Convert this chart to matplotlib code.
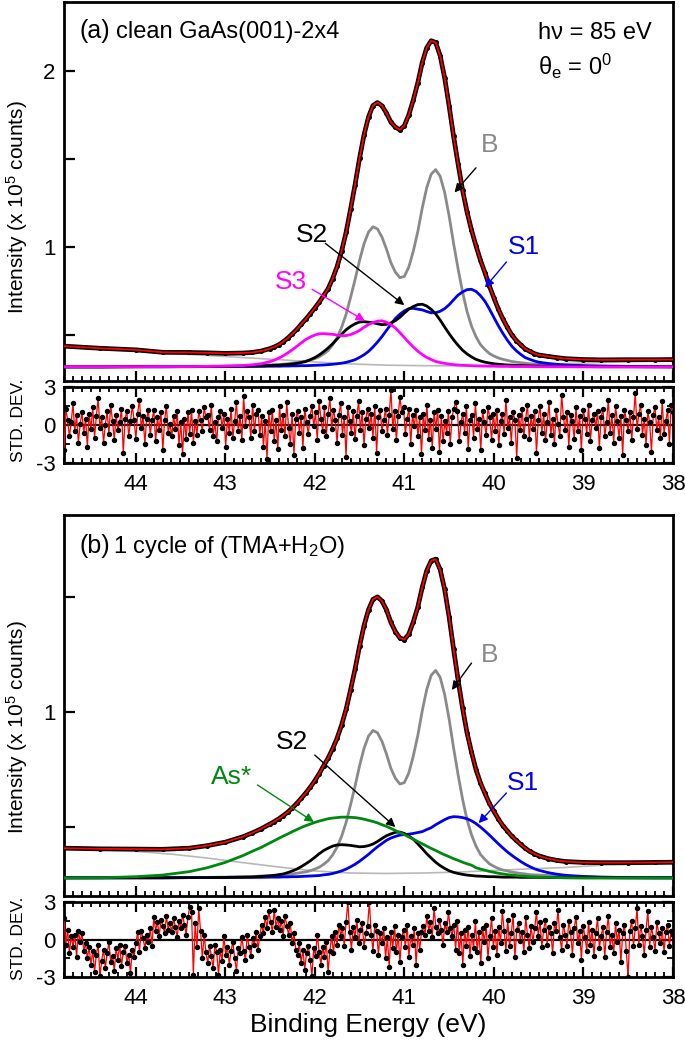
import numpy as np
import matplotlib
matplotlib.use("Agg")
import matplotlib.pyplot as plt
from matplotlib.ticker import FixedLocator, NullFormatter

plt.rcParams['font.family'] = ['Liberation Sans', 'DejaVu Sans']
plt.rcParams['mathtext.fontset'] = 'custom'
plt.rcParams['mathtext.rm'] = 'Liberation Sans'
plt.rcParams['mathtext.it'] = 'Liberation Sans:italic'

# ---------------- energy grid (eV) ----------------
energy = [44.8, 44.4, 44.0, 43.7, 43.4, 43.2, 43.0, 42.8, 42.7, 42.6,
          42.5, 42.45, 42.4, 42.35, 42.3, 42.25, 42.2, 42.15, 42.1, 42.05,
          42.0, 41.95, 41.9, 41.85, 41.8, 41.75, 41.7, 41.65, 41.6, 41.55,
          41.5, 41.45, 41.4, 41.35, 41.3, 41.25, 41.2, 41.15, 41.1, 41.05,
          41.0, 40.95, 40.9, 40.85, 40.8, 40.75, 40.7, 40.65, 40.6, 40.55,
          40.5, 40.45, 40.4, 40.35, 40.3, 40.25, 40.2, 40.15, 40.1, 40.05,
          40.0, 39.95, 39.9, 39.85, 39.8, 39.75, 39.7, 39.65, 39.6, 39.55,
          39.5, 39.4, 39.3, 39.2, 39.0, 38.8, 38.5, 38.2, 38.0]

# ---------------- panel (a): clean GaAs(001)-2x4 ----------------
a_data = [.437, .425, .416, .402, .401, .399, .396, .398, .401, .409,
          .423, .433, .445, .463, .483, .507, .532, .562, .590, .621,
          .653, .687, .725, .764, .821, .890, .977, 1.084, 1.216, 1.354,
          1.504, 1.637, 1.739, 1.804, 1.821, 1.803, 1.761, 1.710, 1.681, 1.666,
          1.689, 1.751, 1.835, 1.932, 2.048, 2.132, 2.172, 2.162, 2.087, 1.962,
          1.802, 1.629, 1.473, 1.324, 1.200, 1.097, 1.007, .925, .855, .779,
          .711, .647, .592, .544, .501, .469, .444, .421, .408, .395,
          .387, .379, .372, .366, .361, .359, .360, .360, .361]
a_B = [.319, .319, .320, .320, .321, .322, .323, .325, .326, .329,
       .331, .332, .333, .335, .337, .340, .344, .348, .352, .358,
       .366, .377, .393, .412, .444, .486, .544, .618, .714, .815,
       .924, 1.018, 1.085, 1.115, 1.103, 1.057, .989, .911, .857, .826,
       .833, .886, .976, 1.087, 1.221, 1.337, 1.414, 1.440, 1.402, 1.311,
       1.177, 1.021, .877, .745, .634, .551, .491, .446, .418, .395,
       .381, .370, .362, .356, .350, .346, .343, .340, .337, .335,
       .334, .332, .330, .327, .325, .323, .322, .321, .320]
a_S1 = [.319, .319, .320, .320, .321, .321, .321, .322, .322, .322,
        .323, .323, .323, .324, .324, .325, .325, .326, .326, .327,
        .328, .329, .330, .332, .334, .337, .340, .345, .352, .360,
        .373, .388, .407, .432, .460, .491, .526, .561, .594, .618,
        .637, .650, .652, .647, .643, .634, .626, .627, .635, .650,
        .672, .700, .727, .745, .758, .760, .748, .724, .692, .648,
        .600, .553, .510, .471, .437, .411, .390, .372, .362, .353,
        .346, .339, .334, .330, .326, .324, .322, .321, .320]
a_S2 = [.319, .319, .320, .320, .320, .321, .321, .323, .324, .325,
        .327, .328, .329, .331, .333, .336, .339, .344, .350, .360,
        .372, .387, .406, .427, .451, .478, .505, .530, .549, .564,
        .574, .576, .573, .570, .564, .559, .561, .569, .582, .601,
        .625, .647, .662, .673, .675, .665, .646, .620, .585, .546,
        .508, .473, .442, .414, .393, .376, .362, .353, .346, .341,
        .337, .334, .332, .330, .329, .328, .327, .326, .325, .324,
        .324, .323, .322, .322, .321, .320, .320, .319, .319]
a_S3 = [.320, .320, .320, .321, .321, .322, .324, .327, .331, .337,
        .349, .358, .369, .383, .399, .417, .436, .456, .475, .489,
        .500, .507, .508, .506, .504, .500, .496, .497, .503, .513,
        .526, .544, .560, .571, .579, .581, .573, .559, .540, .514,
        .486, .458, .432, .409, .389, .373, .361, .350, .344, .339,
        .335, .332, .330, .328, .327, .326, .325, .324, .324, .323,
        .323, .322, .322, .322, .321, .321, .321, .321, .321, .320,
        .320, .320, .320, .320, .319, .319, .319, .319, .319]
bg_energy = [44.8, 44.4, 44.0, 43.6, 43.2, 42.8, 42.4, 42.0, 41.6,
             41.2, 40.8, 40.4, 40.0, 39.6, 39.2, 38.8, 38.4, 38.0]
a_bg = [.432, .420, .408, .396, .384, .372, .360, .347, .336,
        .329, .326, .325, .327, .332, .338, .344, .350, .355]

res_a = [-2.0, 1.3, 0.4, -0.9, 0.2, 1.7, -0.5, 0.8, -1.4, 0.1, 1.0, -0.6, 0.5, -1.7, 0.9, -0.3, 1.4, -1.0, 0.7, 2.1,
         -0.2, 0.6, -1.4, 0.0, 1.1, -0.7, 1.6, 0.3, -1.2, 0.8, -0.4, 0.2, 1.3, -2.2, 0.5, 1.1, -0.9, 0.3, 1.5, 0.4,
         -1.1, 0.9, 2.0, -0.2, 0.7, -1.5, 0.5, 1.2, -0.8, 0.4, 1.2, -1.3, 0.6, -0.4, 1.0, -2.0, 0.4, 1.5, -0.6, 0.1,
         -0.9, 0.7, -0.3, 1.1, -1.6, 0.2, -2.3, 0.5, -1.1, 1.0, -0.7, 1.2, -1.4, 0.3, -0.8, 1.1, 0.4, -0.5, 1.4, 0.6,
         0.8, -0.4, 1.6, -0.9, 0.2, -1.3, 0.6, 1.1, -0.2, 0.9, -1.7, 0.5, -0.6, 1.3, -1.0, 0.3, 1.8, -0.5, 0.7, -1.2,
         2.3, -0.1, 1.1, 0.6, -1.0, 1.6, -0.5, 0.9, 1.2, -0.8, 0.7, -1.7, 0.3, -2.7, 1.0, -0.5, 1.2, -1.3, 0.4, -1.9,
         1.5, -0.4, 0.8, -0.9, 1.8, -0.2, -1.5, 0.9, -2.4, 0.5, 1.1, -0.6, 0.6, -1.8, 1.3, 0.2, -0.7, 0.7, 1.5, -0.1,
         1.0, -1.2, 1.9, 0.5, -0.5, 1.4, -0.9, 0.9, 2.1, -0.3, 1.2, 0.4, -1.4, 0.8, 1.7, -0.8, 0.6, -2.5, 1.4, 0.3,
         -0.6, 1.1, -1.1, 0.7, 1.9, -0.4, 1.0, -1.6, 0.5, 1.3, -0.2, 0.9, -1.0, 1.5, -2.2, 0.6, 1.2, -0.5, 0.4, 1.3,
         -0.8, 0.8, 2.8, -0.3, 1.1, -1.2, 0.7, 2.2, 1.0, 1.4, -0.7, 0.5, 1.3, -1.5, 0.8, -0.1, 1.2, -0.9, 0.6, -2.3,
         0.9, -0.4, 1.6, -1.1, 0.4, -1.8, 1.0, -0.3, 1.2, -2.1, 0.7, -1.3, 0.3, -0.6, 1.1, -1.5, 0.6, 1.3, 1.8, 1.1,
         -1.3, 0.2, 0.9, -0.6, 1.5, -1.9, 0.4, 0.8, -1.0, 1.7, -0.3, 0.5, -2.0, 1.1, 0.2, -0.8, 1.4, 0.6, -1.2, 0.9,
         -0.5, 1.2, -1.6, 0.3, 0.9, -0.7, 2.0, -0.2, 0.6, -1.4, 1.0, 0.4, -2.6, 0.8, -0.4, 1.3, -0.9, 0.5, 1.6, -1.1,
         0.7, -0.3, 1.1, -2.2, 0.4, 1.5, -0.6, 0.9, -1.2, 0.2, 1.8, -0.8, 0.5, -1.5, 1.2, 0.1, -0.9, 2.4, 0.6, -0.4,
         1.0, -1.7, 0.8, 0.3, -1.1, 1.4, -0.5, 0.7, -2.0, 1.2, 0.5, -0.7, 1.6, -1.3, 0.4, 0.9, -0.2, 1.1, -1.8, 0.6,
         1.3, -0.9, 0.2, 2.0, -0.6, 0.8, -1.4, 1.5, 0.3, -1.0, 0.7, -2.4, 1.2, 0.4, -0.5, 1.0, -1.2, 0.6, 2.5, -0.3,
         0.9, 1.6, -0.8, 0.5, -1.6, 1.1, 0.2, -2.1, 0.8, 1.4, -0.4, 0.6, -1.0, 1.9, -0.7, 0.3, 1.2, -1.5, 1.6, 1.0]

# ---------------- panel (b): 1 cycle of (TMA+H2O) ----------------
b_data = [.408, .405, .404, .403, .408, .419, .434, .458, .474, .492,
          .513, .524, .536, .550, .565, .583, .603, .625, .648, .673,
          .701, .732, .767, .800, .841, .887, .944, 1.012, 1.097, 1.187,
          1.286, 1.376, 1.445, 1.490, 1.501, 1.483, 1.445, 1.390, 1.350, 1.322,
          1.315, 1.339, 1.392, 1.456, 1.542, 1.615, 1.658, 1.665, 1.620, 1.534,
          1.414, 1.274, 1.140, 1.018, .910, .826, .750, .692, .646, .603,
          .568, .535, .506, .483, .460, .442, .424, .408, .394, .384,
          .375, .363, .355, .350, .346, .345, .345, .346, .347]
b_B = [.279, .279, .280, .280, .280, .281, .282, .284, .284, .287,
       .288, .289, .290, .292, .293, .296, .299, .302, .305, .310,
       .317, .325, .338, .354, .379, .413, .460, .520, .597, .678,
       .766, .842, .895, .920, .910, .873, .818, .755, .712, .687,
       .693, .735, .808, .897, 1.005, 1.098, 1.160, 1.181, 1.151, 1.077,
       .970, .844, .728, .622, .532, .466, .417, .381, .359, .340,
       .329, .320, .313, .309, .304, .301, .298, .296, .293, .292,
       .291, .289, .288, .285, .284, .282, .281, .280, .280]
b_S1 = [.279, .279, .279, .279, .280, .280, .280, .281, .281, .281,
        .282, .282, .282, .283, .283, .284, .284, .285, .286, .287,
        .288, .289, .292, .294, .298, .303, .309, .317, .327, .338,
        .351, .366, .381, .398, .414, .428, .442, .452, .459, .465,
        .467, .469, .472, .476, .480, .489, .497, .510, .521, .532,
        .541, .545, .544, .541, .536, .527, .515, .500, .483, .465,
        .446, .427, .409, .392, .377, .363, .350, .338, .328, .319,
        .312, .302, .295, .290, .285, .282, .280, .279, .279]
b_S2 = [.279, .279, .279, .279, .280, .280, .281, .282, .283, .285,
        .288, .290, .293, .296, .302, .309, .317, .328, .340, .353,
        .368, .384, .398, .408, .417, .422, .423, .422, .420, .417,
        .414, .415, .419, .426, .437, .450, .462, .470, .477, .478,
        .472, .461, .447, .427, .406, .384, .365, .347, .332, .320,
        .310, .303, .298, .294, .291, .289, .287, .286, .285, .284,
        .284, .283, .282, .282, .282, .282, .281, .281, .281, .281,
        .281, .280, .280, .280, .280, .280, .279, .279, .279]
b_As = [.278, .279, .284, .291, .306, .323, .346, .376, .394, .411,
        .431, .441, .451, .461, .470, .480, .489, .498, .506, .513,
        .520, .526, .531, .536, .539, .541, .543, .543, .542, .541,
        .538, .534, .529, .524, .518, .510, .503, .494, .485, .476,
        .467, .457, .447, .437, .427, .417, .407, .398, .388, .379,
        .371, .362, .355, .347, .340, .334, .323, .317, .312, .307,
        .303, .299, .296, .293, .291, .289, .287, .286, .284, .283,
        .282, .281, .280, .279, .278, .278, .278, .278, .278]
b_bg = [.405, .401, .394, .382, .365, .345, .326, .309, .300,
        .298, .300, .304, .311, .318, .324, .334, .338, .341]

res_b = [1.7, -0.4, 0.8, -1.1, 0.3, -0.6, 0.4, -1.4, 0.7, -0.2, 0.5, -0.9, -0.3, -1.5, -0.6, -2.0, -0.9, -2.6, -1.2, -0.4,
         -2.9, -1.7, -0.8, -2.3, -1.1, -0.2, -1.8, -1.3, -2.5, -0.7, -1.6, -0.4, -2.1, -1.0, -0.5, -1.9, -1.2, -2.7, -0.8, -1.4,
         -0.3, 0.6, -1.0, 0.7, 0.1, -0.7, 0.4, -0.2, 0.9, -0.5, 1.8, 0.7, 1.4, 0.3, 1.6, 1.1, 0.5, 1.9, 0.8, 1.3,
         0.6, 1.7, 1.0, 0.2, 1.5, 0.9, 2.0, 1.2, 0.4, 1.8, 2.6, 2.2, -2.8, 1.3, -0.6, 2.5, 0.7, -1.5, 0.4, -1.0,
         -1.9, -0.5, -1.3, -2.3, -0.4, -1.0, -2.8, -0.8, -1.7, 0.3, -1.2, -0.6, -2.0, -0.9, -0.2, -1.5, -2.5, -0.7, -1.1, 0.2,
         -0.9, -1.6, 0.4, -0.6, -1.3, 0.1, -0.4, 0.6, -0.8, 0.3, 1.2, 0.5, 1.8, 0.9, 2.3, 1.4, 0.6, 2.4, 1.0, 1.7,
         0.8, 1.5, 0.3, 1.9, 1.1, 0.4, 1.3, -0.3, 0.5, -0.8, -1.2, -0.3, -1.9, -0.8, -2.4, -1.1, -0.5, -1.6, -2.9, -0.7,
         -1.3, 0.4, -1.0, -2.0, -0.6, -1.4, -0.2, -2.6, -0.9, 0.3, -1.1, 0.6, -0.4, 1.2, 0.3, 0.9, -0.5, 1.4, 3.0, 0.6,
         -0.8, 1.0, 0.2, 1.6, -0.3, 0.8, 1.3, -0.6, 0.5, 1.1, 3.0, 0.4, -0.9, 1.2, 0.7, -1.2, 0.5, -0.3, 0.9, -1.5,
         0.2, -2.2, 0.6, -0.7, 1.1, -1.0, 0.4, -1.8, 0.2, 0.8, -0.6, 1.2, -1.4, 0.3, -0.4, 0.9, -2.0, 0.5, -0.8, 0.6,
         1.1, 0.4, 1.9, 0.7, 1.4, 0.2, 2.5, 1.0, 0.5, 1.6, 0.8, -0.4, 1.3, 0.6, 2.2, 0.9, 0.3, 1.2, -0.8, 1.5,
         -1.1, 0.5, -2.0, 0.8, -0.5, 1.0, -1.3, 0.4, -0.7, 1.5, -1.0, 0.6, -1.9, 0.9, -0.2, 1.2, -1.5, 0.3, 1.7, -0.6,
         0.7, -1.2, 1.0, -0.3, 2.3, 0.7, -0.9, 1.6, -0.5, 0.5, 2.0, -1.4, 0.8, 1.3, -0.1, 0.6, -1.0, 1.8, 0.4, -0.7,
         1.1, -0.2, 0.9, 2.2, 0.3, 1.4, -0.6, 0.8, 1.6, -0.4, 1.0, 0.5, -1.1, 1.3, 0.7, 2.4, 0.2, -0.8, 1.2, 0.4,
         -0.5, 1.5, 0.6, -1.2, 0.9, 1.8, -0.3, 0.7, -1.6, 1.1, 0.2, -0.9, 1.4, -0.4, 0.8, -1.3, 0.5, 1.7, -0.7, 0.3,
         1.0, -1.4, 0.6, 1.9, -0.6, 0.4, -1.1, 1.3, -0.2, 0.8, -1.8, 0.5, 1.2, -0.9, -3.0, 0.7, 1.5, -0.5, 0.9, 2.5,
         -0.4, 1.1, 0.3, -1.2, 0.8, 2.3, -0.6, 1.0, 0.2, -0.9, 1.4, 0.5, -0.3, 0.9, -1.0, 0.6, 1.2, -0.5, 0.7, 0.4]

x_ticks = [44, 43, 42, 41, 40, 39, 38]

# ---------------- figure ----------------
W, H = 685, 1050
fig = plt.figure(figsize=(W / 100, H / 100), dpi=100)

def rect(x0, y0, x1, y1):
    return [x0 / W, 1 - y1 / H, (x1 - x0) / W, (y1 - y0) / H]

ax_a = fig.add_axes(rect(64, 2, 673, 381))
ax_ar = fig.add_axes(rect(64, 387, 673, 463))
ax_b = fig.add_axes(rect(64, 515, 673, 896))
ax_br = fig.add_axes(rect(64, 902, 673, 977))

GRAY = '#8a8a8a'
BLUE = '#0000ee'
MAG = '#ff00ff'
GREEN = '#00870f'
LW = 2.0

def style(ax, main):
    for s in ax.spines.values():
        s.set_linewidth(2.0)
    ax.set_xlim(44.8, 38.0)
    ax.xaxis.set_major_locator(FixedLocator(x_ticks))
    ax.xaxis.set_minor_locator(FixedLocator(np.arange(38.0, 44.81, 0.1)))
    ax.tick_params(axis='both', which='both', direction='in', labelsize=16)
    ax.tick_params(axis='x', which='major', length=7, width=1.6)
    ax.tick_params(axis='x', which='minor', length=3.5, width=1.3)
    ax.tick_params(axis='y', which='major', length=8, width=1.6, pad=6)
    ax.tick_params(axis='y', which='minor', length=4, width=1.3)
    if main:
        ax.tick_params(axis='x', which='both', top=False, bottom=True, labelbottom=False)
        ax.tick_params(axis='y', which='both', left=True, right=False)
    else:
        ax.tick_params(axis='x', which='both', top=True, bottom=True, labelbottom=True, pad=8)
        ax.tick_params(axis='y', which='both', left=True, right=True)

for ax in (ax_a, ax_ar, ax_b, ax_br):
    style(ax, ax in (ax_a, ax_b))

def arrow(ax, tail, head, color):
    ax.annotate('', xy=head, xytext=tail,
                arrowprops=dict(arrowstyle='-|>', color=color, lw=1.0,
                                mutation_scale=13, shrinkA=0, shrinkB=0),
                zorder=8)

def residual(ax, values):
    e = np.linspace(44.8, 38.0, len(values))
    ax.axhline(0, color='black', lw=1.6, zorder=2)
    ax.plot(e, values, color='red', lw=0.9, zorder=3)
    ax.plot(e, values, 'o', color='black', ms=2.9, zorder=4)
    ax.set_ylim(-3, 3)
    ax.set_yticks([-3, 0, 3])
    ax.set_yticklabels(['-3', '0', '3'])
    ax.yaxis.set_minor_locator(FixedLocator([-1.5, 1.5]))
    ax.yaxis.set_minor_formatter(NullFormatter())

def spectrum(ax, values):
    ax.plot(energy, values, color='black', lw=3.4, zorder=5)
    ax.plot(energy, values, color='black', lw=0, marker='o', ms=2.6, zorder=5)
    ax.plot(energy, values, color='red', lw=1.3, zorder=6)

# ---- panel (a) ----
ax_a.plot(bg_energy, a_bg, color='#b8b8b8', lw=1.2, zorder=2)
ax_a.plot(energy, a_B, color=GRAY, lw=LW, zorder=3)
ax_a.plot(energy, a_S1, color=BLUE, lw=LW, zorder=3)
ax_a.plot(energy, a_S2, color='black', lw=LW, zorder=3)
ax_a.plot(energy, a_S3, color=MAG, lw=LW, zorder=4)
spectrum(ax_a, a_data)
ax_a.set_ylim(0.239, 2.392)
ax_a.set_yticks([0.5, 1.0, 1.5, 2.0])
ax_a.set_yticklabels(['', '1', '', '2'])

ax_a.text(40.05, 1.58, 'B', color=GRAY, fontsize=19, ha='center', va='center')
ax_a.text(42.03, 1.07, 'S2', color='black', fontsize=19, ha='center', va='center')
ax_a.text(39.66, 1.0, 'S1', color=BLUE, fontsize=19, ha='center', va='center')
ax_a.text(42.27, 0.80, 'S3', color=MAG, fontsize=19, ha='center', va='center')
arrow(ax_a, (40.20, 1.45), (40.44, 1.31), 'black')
arrow(ax_a, (41.88, 1.02), (41.00, 0.67), 'black')
arrow(ax_a, (39.86, 0.915), (40.10, 0.77), BLUE)
arrow(ax_a, (42.03, 0.76), (41.44, 0.58), MAG)

ax_a.text(44.63, 2.19, '(a)', fontsize=18, ha='left', va='baseline')
ax_a.text(44.22, 2.19, 'clean GaAs(001)-2x4', fontsize=17, ha='left', va='baseline')
ax_a.text(39.51, 2.182, 'h\u03bd = 85 eV', fontsize=17, ha='left', va='baseline')
ax_a.text(39.51, 1.977, '\u03b8$_\\mathregular{e}$ = 0$^\\mathregular{0}$', fontsize=17,
          ha='left', va='baseline')

residual(ax_ar, res_a)

# ---- panel (b) ----
ax_b.plot(bg_energy, b_bg, color='#b8b8b8', lw=1.2, zorder=2)
ax_b.plot(energy, b_B, color=GRAY, lw=LW, zorder=3)
ax_b.plot(energy, b_S1, color=BLUE, lw=LW, zorder=3)
ax_b.plot(energy, b_S2, color='black', lw=LW, zorder=3)
ax_b.plot(energy, b_As, color=GREEN, lw=LW, zorder=4)
spectrum(ax_b, b_data)
ax_b.set_ylim(0.2, 1.857)
ax_b.set_yticks([0.5, 1.0, 1.5])
ax_b.set_yticklabels(['', '1', ''])

ax_b.text(40.05, 1.248, 'B', color=GRAY, fontsize=19, ha='center', va='center')
ax_b.text(42.25, 0.87, 'S2', color='black', fontsize=19, ha='center', va='center')
ax_b.text(39.68, 0.69, 'S1', color=BLUE, fontsize=19, ha='center', va='center')
ax_b.text(42.93, 0.717, 'As*', color=GREEN, fontsize=19, ha='center', va='center')
arrow(ax_b, (40.25, 1.213), (40.47, 1.096), 'black')
arrow(ax_b, (42.0, 0.813), (41.1, 0.50), 'black')
arrow(ax_b, (39.86, 0.648), (40.17, 0.517), BLUE)
arrow(ax_b, (42.64, 0.683), (42.01, 0.522), GREEN)

ax_b.text(44.63, 1.692, '(b)', fontsize=18, ha='left', va='baseline')
ax_b.text(44.25, 1.692, '1 cycle of (TMA+H$_\\mathregular{2}$O)', fontsize=17,
          ha='left', va='baseline')

residual(ax_br, res_b)

# ---- axis labels ----
ylab = 'Intensity (x 10$^\\mathregular{5}$ counts)'
fig.text(17 / W, 1 - 207 / H, ylab, rotation=90, fontsize=15, ha='center', va='center')
fig.text(17 / W, 1 - 727 / H, ylab, rotation=90, fontsize=15, ha='center', va='center')
fig.text(19 / W, 1 - 420 / H, 'STD. DEV.', rotation=90, fontsize=12.5, ha='center', va='center')
fig.text(19 / W, 1 - 938 / H, 'STD. DEV.', rotation=90, fontsize=12.5, ha='center', va='center')
fig.text(368 / W, 1 - 1025 / H, 'Binding Energy (eV)', fontsize=19, ha='center', va='center')

fig.savefig('out.png', dpi=100)
